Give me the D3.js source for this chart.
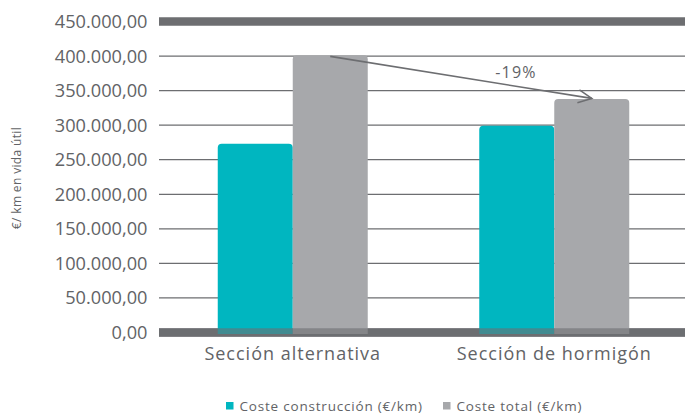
<!DOCTYPE html>
<html lang="es">
<head>
<meta charset="UTF-8">
<title>Coste por km</title>
<script src="https://cdn.jsdelivr.net/npm/d3@7"></script>
<style>
  body { margin: 0; background: #fff; }
  text { font-family: "Open Sans", Lato, sans-serif; }
</style>
</head>
<body>
<svg id="chart" width="685" height="414"></svg>
<script>
// data
const categories = ["Sección alternativa", "Sección de hormigón"];
const series = ["Coste construcción (€/km)", "Coste total (€/km)"];
const construccion = [273000, 299000];
const total = [401000, 338000];
const yTicks = [0, 50000, 100000, 150000, 200000, 250000, 300000, 350000, 400000, 450000];
const changeLabel = "-19%";

const colors = ["#00b6c0", "#a7a8ab"];
const lineColor = "#6d6e71";
const textColor = "#626366";

const svg = d3.select("#chart");

const y = d3.scaleLinear().domain([0, 450000]).range([332.5, 21.5]);
const x0 = d3.scaleBand().domain(categories).range([162, 685])
    .paddingInner(0.4264).paddingOuter(0.2132);
const x1 = d3.scaleBand().domain(series).range([0, x0.bandwidth()]);

const fmt = v => d3.format(",.2f")(v).replace(/,/g, "#").replace(/\./g, ",").replace(/#/g, ".");

// gridlines
const grid = svg.append("g");
grid.selectAll("line")
    .data(yTicks.filter(t => t !== 0))
    .enter().append("line")
    .attr("x1", 159).attr("x2", 685)
    .attr("y1", d => y(d)).attr("y2", d => y(d))
    .attr("stroke", lineColor)
    .attr("stroke-width", d => d === 450000 ? 8.5 : 1.3);

// zero band (underlay)
svg.append("rect")
    .attr("x", 159).attr("width", 526)
    .attr("y", y(0) - 4.25).attr("height", 8.5)
    .attr("fill", lineColor);

// tick labels
svg.append("g").selectAll("text")
    .data(yTicks)
    .enter().append("text")
    .attr("x", 147.5)
    .attr("y", d => y(d) + 6.5)
    .attr("text-anchor", "end")
    .attr("font-size", 18.2)
    .attr("fill", textColor)
    .text(fmt);

// bars
const rows = categories.map((c, i) => ({cat: c, vals: [construccion[i], total[i]]}));
const r = 4;
function barPath(x, w, top, bottom) {
  return `M${x},${bottom}V${top + r}Q${x},${top} ${x + r},${top}H${x + w - r}Q${x + w},${top} ${x + w},${top + r}V${bottom}Z`;
}
const groups = svg.append("g").selectAll("g")
    .data(rows)
    .enter().append("g")
    .attr("transform", d => `translate(${x0(d.cat)},0)`);
groups.selectAll("path")
    .data(d => d.vals.map((v, j) => ({v, s: series[j], j})))
    .enter().append("path")
    .attr("d", d => barPath(x1(d.s), x1.bandwidth(), y(d.v), y(0) + 1.5))
    .attr("fill", d => colors[d.j]);

// zero band overlay
svg.append("rect")
    .attr("x", 159).attr("width", 526)
    .attr("y", y(0) - 4.25).attr("height", 8.5)
    .attr("fill", lineColor).attr("opacity", 0.6);

// arrow between totals
const ax1 = x0(categories[0]) + x1(series[1]) + x1.bandwidth() / 2;
const ay1 = y(total[0]) + 1;
const ax2 = x0(categories[1]) + x1(series[1]) + x1.bandwidth() / 2;
const ay2 = y(total[1]) - 0.5;
svg.append("line")
    .attr("x1", ax1).attr("y1", ay1).attr("x2", ax2).attr("y2", ay2)
    .attr("stroke", lineColor).attr("stroke-width", 1.6);
const ang = Math.atan2(ay2 - ay1, ax2 - ax1);
const head = 15, spread = 0.45;
svg.append("path")
    .attr("d", `M${ax2 - head * Math.cos(ang - spread)},${ay2 - head * Math.sin(ang - spread)}L${ax2},${ay2}L${ax2 - head * Math.cos(ang + spread)},${ay2 - head * Math.sin(ang + spread)}`)
    .attr("fill", "none").attr("stroke", lineColor).attr("stroke-width", 1.6);
svg.append("text")
    .attr("x", (ax1 + ax2) / 2 + 55).attr("y", 77.5)
    .attr("text-anchor", "middle")
    .attr("font-size", 16)
    .attr("letter-spacing", 1.2)
    .attr("fill", textColor)
    .text(changeLabel);

// category labels
svg.append("g").selectAll("text")
    .data(categories)
    .enter().append("text")
    .attr("x", d => x0(d) + x0.bandwidth() / 2)
    .attr("y", 359.5)
    .attr("text-anchor", "middle")
    .attr("font-size", 18)
    .attr("letter-spacing", 1)
    .attr("fill", textColor)
    .text(d => d);

// y title
svg.append("text")
    .attr("transform", "translate(21,178) rotate(-90)")
    .attr("text-anchor", "middle")
    .attr("font-size", 12)
    .attr("letter-spacing", 0.35)
    .attr("fill", textColor)
    .text("€/ km en vida útil");

// legend
const legX = [226, 443];
const leg = svg.append("g").selectAll("g")
    .data(series)
    .enter().append("g")
    .attr("transform", (d, i) => `translate(${legX[i]},402)`);
leg.append("rect").attr("width", 7.5).attr("height", 7.5)
    .attr("fill", (d, i) => colors[i]);
leg.append("text")
    .attr("x", 13.5).attr("y", 8.8)
    .attr("font-size", 13.5)
    .attr("letter-spacing", 0.8)
    .attr("fill", textColor)
    .text(d => d);
</script>
</body>
</html>
